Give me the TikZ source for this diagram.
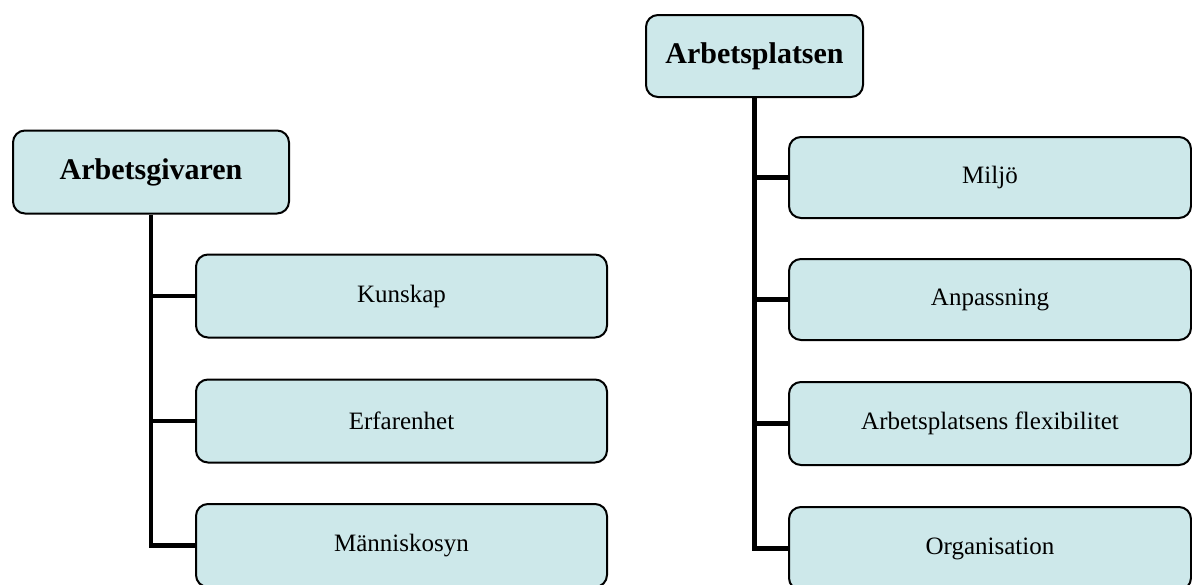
\documentclass[tikz,border=0pt]{standalone}
\usepackage{fontspec}
\setmainfont{Liberation Serif}
\definecolor{boxfill}{HTML}{CDE8EA}
\begin{document}
\begin{tikzpicture}[x=1pt,y=-1pt,
  head/.style={draw=black, line width=2pt, rounded corners=12pt, fill=boxfill,
    minimum height=83pt, inner sep=0pt, font=\fontsize{30}{32}\selectfont\bfseries},
  item/.style={draw=black, line width=2pt, rounded corners=12pt, fill=boxfill,
    minimum height=83pt, inner sep=0pt, font=\fontsize{25}{27}\selectfont},
  conn/.style={line width=4.5pt, black}]
\useasboundingbox (0,0) rectangle (1192,584);
\clip (0,0) rectangle (1192,584);
\fill[white] (0,0) rectangle (1192,584);
% left tree
\node[head, minimum width=276pt] (ag) at (151,172) {Arbetsgivaren};
\node[item, minimum width=411pt] (k) at (401.5,296) {Kunskap};
\node[item, minimum width=411pt] (e) at (401.5,421) {Erfarenhet};
\node[item, minimum width=411pt] (m) at (401.5,545.5) {Människosyn};
\draw[conn] (ag.south) |- (m.west);
\draw[conn] (k.west) -- (k.west -| ag.south);
\draw[conn] (e.west) -- (e.west -| ag.south);
% right tree
\node[head, minimum width=217pt, minimum height=82pt] (ap) at (754.5,56) {Arbetsplatsen};
\node[item, minimum width=402pt, minimum height=81pt] (mi) at (990,177.5) {Miljö};
\node[item, minimum width=402pt, minimum height=81pt] (an) at (990,299.5) {Anpassning};
\node[item, minimum width=402pt] (fl) at (990,423.5) {Arbetsplatsens flexibilitet};
\node[item, minimum width=402pt] (or) at (990,548.5) {Organisation};
\draw[conn] (ap.south) |- (or.west);
\draw[conn] (mi.west) -- (mi.west -| ap.south);
\draw[conn] (an.west) -- (an.west -| ap.south);
\draw[conn] (fl.west) -- (fl.west -| ap.south);
\end{tikzpicture}
\end{document}
